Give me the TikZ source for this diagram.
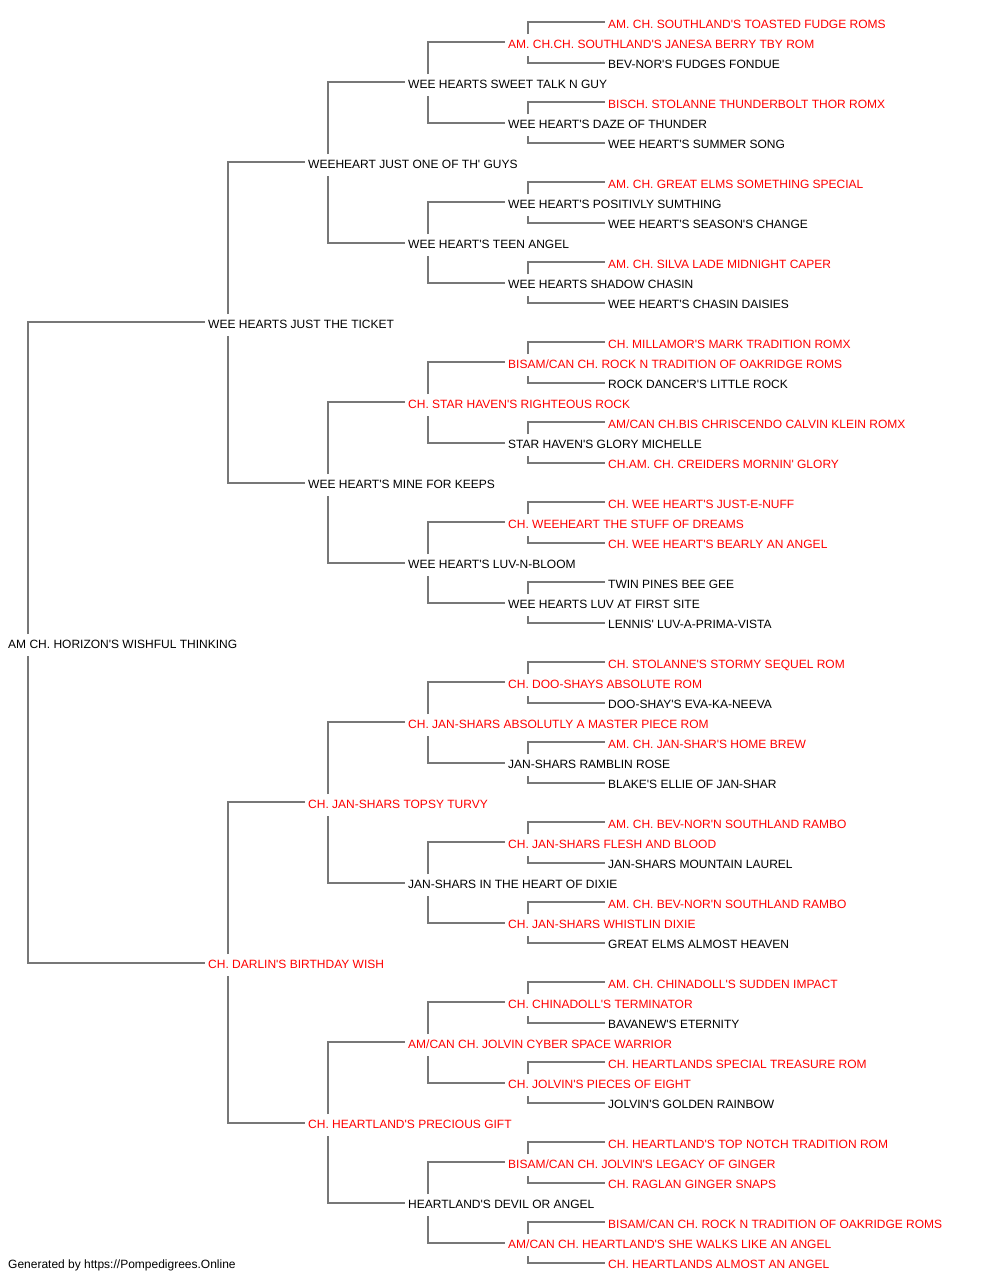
\documentclass[tikz,border=0pt]{standalone}
\usepackage{fontspec}
\newfontfamily\pf{Liberation Sans}
\definecolor{lc}{HTML}{777777}
\definecolor{rd}{HTML}{FF0000}
\begin{document}
\begin{tikzpicture}[x=1pt,y=-1pt,
  every node/.style={font=\pf\fontsize{12}{14}\selectfont, anchor=west, inner xsep=0pt, inner ysep=0pt, text height=10.4pt, text depth=0pt},
  nb/.style={text=black}, nr/.style={text=rd},
  conn/.style={draw=lc, line width=1.6pt}]
\useasboundingbox (0,0) rectangle (1000,1280);
% root
\node[nb] (n31) at (8,643) {AM CH. HORIZON'S WISHFUL THINKING};
% gen1
\node[nb] (n15) at (208,323) {WEE HEARTS JUST THE TICKET};
\node[nr] (n47) at (208,963) {CH. DARLIN'S BIRTHDAY WISH};
% gen2
\node[nb] (n7) at (308,163) {WEEHEART JUST ONE OF TH' GUYS};
\node[nb] (n23) at (308,483) {WEE HEART'S MINE FOR KEEPS};
\node[nr] (n39) at (308,803) {CH. JAN-SHARS TOPSY TURVY};
\node[nr] (n55) at (308,1123) {CH. HEARTLAND'S PRECIOUS GIFT};
% gen3
\node[nb] (n3) at (408,83) {WEE HEARTS SWEET TALK N GUY};
\node[nb] (n11) at (408,243) {WEE HEART'S TEEN ANGEL};
\node[nr] (n19) at (408,403) {CH. STAR HAVEN'S RIGHTEOUS ROCK};
\node[nb] (n27) at (408,563) {WEE HEART'S LUV-N-BLOOM};
\node[nr] (n35) at (408,723) {CH. JAN-SHARS ABSOLUTLY A MASTER PIECE ROM};
\node[nb] (n43) at (408,883) {JAN-SHARS IN THE HEART OF DIXIE};
\node[nr] (n51) at (408,1043) {AM/CAN CH. JOLVIN CYBER SPACE WARRIOR};
\node[nb] (n59) at (408,1203) {HEARTLAND'S DEVIL OR ANGEL};
% gen4
\node[nr] (n1) at (508,43) {AM. CH.CH. SOUTHLAND'S JANESA BERRY TBY ROM};
\node[nb] (n5) at (508,123) {WEE HEART'S DAZE OF THUNDER};
\node[nb] (n9) at (508,203) {WEE HEART'S POSITIVLY SUMTHING};
\node[nb] (n13) at (508,283) {WEE HEARTS SHADOW CHASIN};
\node[nr] (n17) at (508,363) {BISAM/CAN CH. ROCK N TRADITION OF OAKRIDGE ROMS};
\node[nb] (n21) at (508,443) {STAR HAVEN'S GLORY MICHELLE};
\node[nr] (n25) at (508,523) {CH. WEEHEART THE STUFF OF DREAMS};
\node[nb] (n29) at (508,603) {WEE HEARTS LUV AT FIRST SITE};
\node[nr] (n33) at (508,683) {CH. DOO-SHAYS ABSOLUTE ROM};
\node[nb] (n37) at (508,763) {JAN-SHARS RAMBLIN ROSE};
\node[nr] (n41) at (508,843) {CH. JAN-SHARS FLESH AND BLOOD};
\node[nr] (n45) at (508,923) {CH. JAN-SHARS WHISTLIN DIXIE};
\node[nr] (n49) at (508,1003) {CH. CHINADOLL'S TERMINATOR};
\node[nr] (n53) at (508,1083) {CH. JOLVIN'S PIECES OF EIGHT};
\node[nr] (n57) at (508,1163) {BISAM/CAN CH. JOLVIN'S LEGACY OF GINGER};
\node[nr] (n61) at (508,1243) {AM/CAN CH. HEARTLAND'S SHE WALKS LIKE AN ANGEL};
% gen5
\node[nr] (n0) at (608,23) {AM. CH. SOUTHLAND'S TOASTED FUDGE ROMS};
\node[nb] (n2) at (608,63) {BEV-NOR'S FUDGES FONDUE};
\node[nr] (n4) at (608,103) {BISCH. STOLANNE THUNDERBOLT THOR ROMX};
\node[nb] (n6) at (608,143) {WEE HEART'S SUMMER SONG};
\node[nr] (n8) at (608,183) {AM. CH. GREAT ELMS SOMETHING SPECIAL};
\node[nb] (n10) at (608,223) {WEE HEART'S SEASON'S CHANGE};
\node[nr] (n12) at (608,263) {AM. CH. SILVA LADE MIDNIGHT CAPER};
\node[nb] (n14) at (608,303) {WEE HEART'S CHASIN DAISIES};
\node[nr] (n16) at (608,343) {CH. MILLAMOR'S MARK TRADITION ROMX};
\node[nb] (n18) at (608,383) {ROCK DANCER'S LITTLE ROCK};
\node[nr] (n20) at (608,423) {AM/CAN CH.BIS CHRISCENDO CALVIN KLEIN ROMX};
\node[nr] (n22) at (608,463) {CH.AM. CH. CREIDERS MORNIN' GLORY};
\node[nr] (n24) at (608,503) {CH. WEE HEART'S JUST-E-NUFF};
\node[nr] (n26) at (608,543) {CH. WEE HEART'S BEARLY AN ANGEL};
\node[nb] (n28) at (608,583) {TWIN PINES BEE GEE};
\node[nb] (n30) at (608,623) {LENNIS' LUV-A-PRIMA-VISTA};
\node[nr] (n32) at (608,663) {CH. STOLANNE'S STORMY SEQUEL ROM};
\node[nb] (n34) at (608,703) {DOO-SHAY'S EVA-KA-NEEVA};
\node[nr] (n36) at (608,743) {AM. CH. JAN-SHAR'S HOME BREW};
\node[nb] (n38) at (608,783) {BLAKE'S ELLIE OF JAN-SHAR};
\node[nr] (n40) at (608,823) {AM. CH. BEV-NOR'N SOUTHLAND RAMBO};
\node[nb] (n42) at (608,863) {JAN-SHARS MOUNTAIN LAUREL};
\node[nr] (n44) at (608,903) {AM. CH. BEV-NOR'N SOUTHLAND RAMBO};
\node[nb] (n46) at (608,943) {GREAT ELMS ALMOST HEAVEN};
\node[nr] (n48) at (608,983) {AM. CH. CHINADOLL'S SUDDEN IMPACT};
\node[nb] (n50) at (608,1023) {BAVANEW'S ETERNITY};
\node[nr] (n52) at (608,1063) {CH. HEARTLANDS SPECIAL TREASURE ROM};
\node[nb] (n54) at (608,1103) {JOLVIN'S GOLDEN RAINBOW};
\node[nr] (n56) at (608,1143) {CH. HEARTLAND'S TOP NOTCH TRADITION ROM};
\node[nr] (n58) at (608,1183) {CH. RAGLAN GINGER SNAPS};
\node[nr] (n60) at (608,1223) {BISAM/CAN CH. ROCK N TRADITION OF OAKRIDGE ROMS};
\node[nr] (n62) at (608,1263) {CH. HEARTLANDS ALMOST AN ANGEL};
% footer
\node[nb] (foot) at (8,1263) {Generated by https://Pompedigrees.Online};
% connectors
\foreach \p/\d in {31/16, 15/8, 47/8, 7/4, 23/4, 39/4, 55/4,
  3/2, 11/2, 19/2, 27/2, 35/2, 43/2, 51/2, 59/2,
  1/1, 5/1, 9/1, 13/1, 17/1, 21/1, 25/1, 29/1, 33/1, 37/1, 41/1, 45/1, 49/1, 53/1, 57/1, 61/1} {
  \pgfmathtruncatemacro\u{\p-\d}
  \pgfmathtruncatemacro\v{\p+\d}
  \draw[conn] ([xshift=20pt,yshift=9pt]n\p.west) |- ([xshift=-3pt,yshift=1pt]n\u.west);
  \draw[conn] ([xshift=20pt,yshift=-13pt]n\p.west) |- ([xshift=-3pt]n\v.west);
}
\end{tikzpicture}
\end{document}
